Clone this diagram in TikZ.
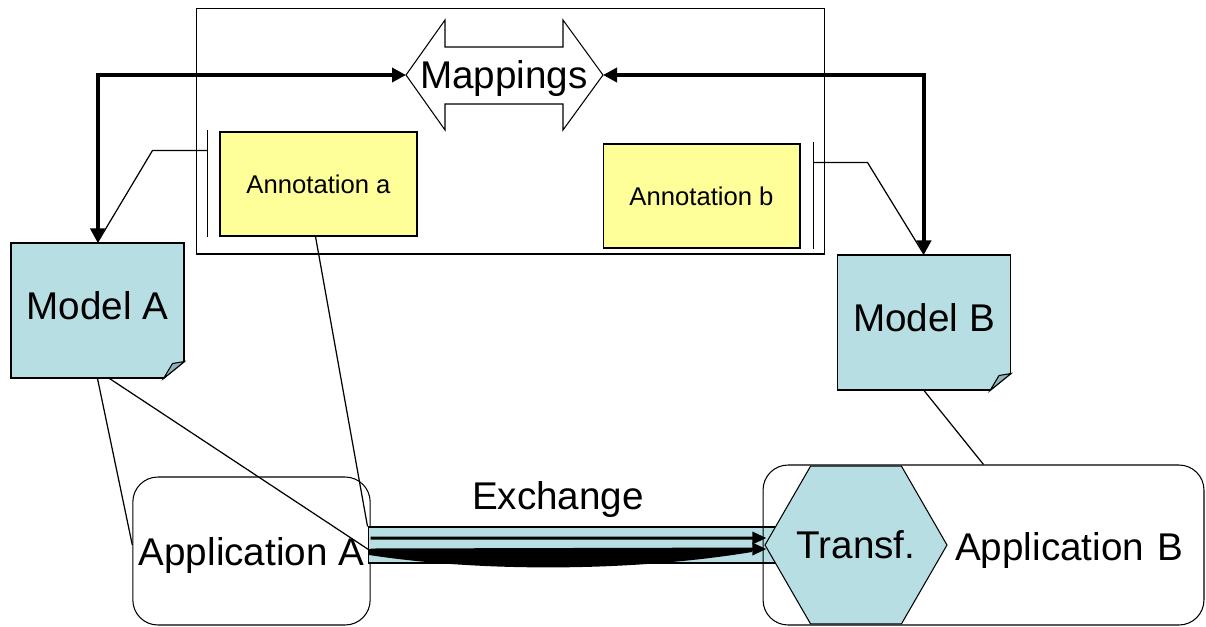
\documentclass[tikz,border=0pt]{standalone}
\usepackage{fontspec}
\setmainfont{Liberation Sans}
\usetikzlibrary{arrows.meta,shapes.geometric}
\definecolor{modelblue}{RGB}{183,222,227}
\definecolor{foldblue}{RGB}{140,180,186}
\definecolor{annyellow}{RGB}{255,255,153}
\newcommand\diagfont{\fontsize{22}{26}\selectfont}
\newcommand\annfont{\fontsize{14.6}{17}\selectfont}
\tikzset{
  model/.style={draw, fill=modelblue, minimum width=3.46cm, minimum height=2.7cm,
    text height=0.5cm, text depth=0.15cm, font=\diagfont, inner sep=0pt},
  annot/.style={draw, fill=annyellow, minimum width=3.94cm, minimum height=2.08cm, font=\annfont},
  app/.style={draw, rounded corners=0.5cm, font=\diagfont},
  link/.style={line width=0.7pt},
  bigarrow/.style={line width=0.08cm, {Triangle[length=0.28cm,width=0.28cm]}-{Triangle[length=0.28cm,width=0.28cm]}},
  xarrow/.style={line width=0.06cm, -{Triangle[length=0.28cm,width=0.24cm]}}
}
\begin{document}
\begin{tikzpicture}[x=0.02cm, y=-0.02cm, line width=0.6pt]
  \useasboundingbox (0,0) rectangle (1206,626);
  % frame and mappings
  \node[draw, minimum width=12.58cm, minimum height=4.92cm] (frame) at (510.5,131) {};
  \draw[fill=white] (406,75) -- (445,20) -- (445,47) -- (563,47) -- (563,20) -- (603,75)
    -- (563,130) -- (563,104) -- (445,104) -- (445,130) -- cycle;
  \coordinate (mapL) at (406,75);
  \coordinate (mapR) at (603,75);
  \node[font=\diagfont, anchor=base] (map) at (504,88) {Mappings};

  % models
  \node[model] (ma) at (97.5,310.5) {Model A};
  \node[model] (mb) at (924,322.5) {Model B};
  \foreach \m in {ma,mb} {
    \fill[white] ([shift={(0,-17)}]\m.south east) -- ([shift={(1,-17)}]\m.south east)
      -- ([shift={(1,1)}]\m.south east) -- ([shift={(-21,1)}]\m.south east)
      -- ([shift={(-21,0)}]\m.south east) -- cycle;
    \draw ([shift={(0,-17)}]\m.south east) -- ([shift={(-21,0)}]\m.south east);
    \draw[fill=foldblue] ([shift={(-21,0)}]\m.south east) .. controls ([shift={(-17,-8)}]\m.south east)
      .. ([shift={(-12,-15)}]\m.south east) -- ([shift={(0,-17)}]\m.south east) -- cycle;
  }

  % annotations
  \node[annot] (annA) at (318.5,184) {Annotation a};
  \node[annot] (annB) at (701.5,196) {Annotation b};
  \draw ([shift={(-12,-1)}]annA.north west) -- ([shift={(-12,0)}]annA.south west);
  \draw ([shift={(13,-1)}]annB.north east) -- ([shift={(13,0)}]annB.south east);
  \draw[link] ([shift={(-12,19)}]annA.north west) -- ++(-55,0) -- (ma.north);
  \draw[link] ([shift={(13,19)}]annB.north east) -- ++(54,0) -- (mb.north);

  \draw[bigarrow] (mapL) -| (ma.north);
  \draw[bigarrow] (mapR) -| (mb.north);

  % applications
  \node[app, minimum width=4.7cm, minimum height=2.96cm, text height=0.56cm, text depth=0pt]
    (appA) at (251.5,551) {Application A};
  \node[draw, fill=modelblue, minimum width=8.24cm, minimum height=0.72cm, inner sep=0pt]
    (band) at (574,545) {};
  \node[app, minimum width=8.82cm, minimum height=3.2cm, text width=7.98cm, align=right,
    inner xsep=0.42cm, text height=0.6cm, text depth=0pt] (appB) at (983.5,545) {Application B};
  \node[regular polygon, regular polygon sides=6, draw, fill=modelblue, minimum size=3.64cm,
    inner sep=0pt, font=\diagfont] (tr) at (856,545) {\makebox[0pt]{Transf.}};

  \draw[link] (ma.south) -- ([shift={(0,-6)}]appA.west);
  \draw[link] ([shift={(12,0)}]ma.south) -- (appA.east);
  \draw[link] ([shift={(-3,0)}]annA.south) -- (band.north west);
  \draw[link] (mb.south) -- (appB.north);

  % exchange
  \node[font=\diagfont, anchor=base] (xch) at (558,509) {Exchange};
  \fill (369,549) -- (752,549) -- (752,552) .. controls (630,572) and (480,572) .. (369,555) -- cycle;
  \draw[xarrow] ([shift={(0,-13)}]appA.east) -- ([shift={(2,-7)}]tr.west);
  \draw[xarrow] ([shift={(0,-1)}]appA.east) -- ([shift={(2,4)}]tr.west);
\end{tikzpicture}
\end{document}
